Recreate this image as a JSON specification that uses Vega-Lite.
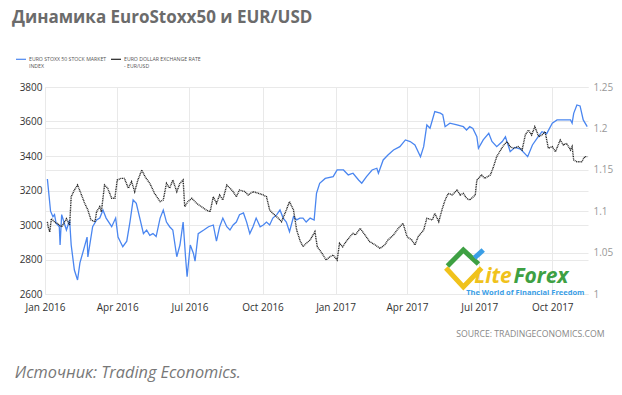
{
  "$schema": "https://vega.github.io/schema/vega-lite/v6.json",
  "width": 543,
  "height": 207,
  "autosize": {"type": "none"},
  "padding": {"left": 45, "top": 87, "right": 34, "bottom": 101},
  "background": "white",
  "title": {
    "text": "Динамика EuroStoxx50 и EUR/USD",
    "anchor": "start",
    "frame": "group",
    "dx": -33,
    "offset": 26,
    "font": "Open Sans",
    "fontSize": 17,
    "fontWeight": "bold",
    "color": "#6b6b6b"
  },
  "config": {
    "view": {"stroke": null},
    "axis": {"labelFont": "Open Sans", "labelFontSize": 10, "domain": false, "ticks": false, "gridColor": "#e9e9e9", "title": null}
  },
  "datasets": {
    "stoxx": [
      {"date": "2016-01-04", "value": 3267}, {"date": "2016-01-06", "value": 3174}, {"date": "2016-01-08", "value": 3080},
      {"date": "2016-01-11", "value": 3048}, {"date": "2016-01-13", "value": 3060}, {"date": "2016-01-15", "value": 3010},
      {"date": "2016-01-19", "value": 2990}, {"date": "2016-01-20", "value": 2884}, {"date": "2016-01-22", "value": 3060},
      {"date": "2016-01-26", "value": 3000}, {"date": "2016-01-28", "value": 2971}, {"date": "2016-02-01", "value": 3029},
      {"date": "2016-02-03", "value": 2884}, {"date": "2016-02-07", "value": 2739}, {"date": "2016-02-11", "value": 2681},
      {"date": "2016-02-14", "value": 2780}, {"date": "2016-02-18", "value": 2846}, {"date": "2016-02-23", "value": 2930},
      {"date": "2016-02-24", "value": 2815}, {"date": "2016-03-01", "value": 2990}, {"date": "2016-03-06", "value": 3029},
      {"date": "2016-03-10", "value": 3040}, {"date": "2016-03-14", "value": 3087}, {"date": "2016-03-18", "value": 3040},
      {"date": "2016-03-25", "value": 2990}, {"date": "2016-03-30", "value": 3040}, {"date": "2016-04-02", "value": 2930},
      {"date": "2016-04-08", "value": 2874}, {"date": "2016-04-13", "value": 2906}, {"date": "2016-04-17", "value": 3017},
      {"date": "2016-04-21", "value": 3145}, {"date": "2016-04-25", "value": 3126}, {"date": "2016-05-04", "value": 2950},
      {"date": "2016-05-08", "value": 2971}, {"date": "2016-05-12", "value": 2940}, {"date": "2016-05-16", "value": 2950},
      {"date": "2016-05-20", "value": 2933}, {"date": "2016-05-25", "value": 3040}, {"date": "2016-05-29", "value": 3087},
      {"date": "2016-06-02", "value": 3017}, {"date": "2016-06-06", "value": 2990}, {"date": "2016-06-10", "value": 2971},
      {"date": "2016-06-15", "value": 2816}, {"date": "2016-06-19", "value": 2884}, {"date": "2016-06-23", "value": 3017},
      {"date": "2016-06-26", "value": 2816}, {"date": "2016-06-28", "value": 2700}, {"date": "2016-07-02", "value": 2884},
      {"date": "2016-07-06", "value": 2835}, {"date": "2016-07-08", "value": 2790}, {"date": "2016-07-12", "value": 2950},
      {"date": "2016-07-19", "value": 2971}, {"date": "2016-07-25", "value": 2990}, {"date": "2016-07-31", "value": 3000},
      {"date": "2016-08-04", "value": 2906}, {"date": "2016-08-08", "value": 2990}, {"date": "2016-08-12", "value": 3040},
      {"date": "2016-08-17", "value": 2990}, {"date": "2016-08-21", "value": 2971}, {"date": "2016-08-25", "value": 3000},
      {"date": "2016-08-29", "value": 3017}, {"date": "2016-09-02", "value": 3060}, {"date": "2016-09-07", "value": 3070},
      {"date": "2016-09-11", "value": 3017}, {"date": "2016-09-15", "value": 2950}, {"date": "2016-09-19", "value": 2990},
      {"date": "2016-09-23", "value": 3040}, {"date": "2016-09-28", "value": 2990}, {"date": "2016-10-02", "value": 3000},
      {"date": "2016-10-06", "value": 3017}, {"date": "2016-10-10", "value": 3000}, {"date": "2016-10-14", "value": 3040},
      {"date": "2016-10-19", "value": 3060}, {"date": "2016-10-23", "value": 3087}, {"date": "2016-10-27", "value": 3040},
      {"date": "2016-10-31", "value": 3017}, {"date": "2016-11-04", "value": 2961}, {"date": "2016-11-09", "value": 3048},
      {"date": "2016-11-13", "value": 3030}, {"date": "2016-11-17", "value": 3040}, {"date": "2016-11-21", "value": 3040},
      {"date": "2016-11-25", "value": 3017}, {"date": "2016-11-30", "value": 3040}, {"date": "2016-12-05", "value": 3029},
      {"date": "2016-12-08", "value": 3184}, {"date": "2016-12-12", "value": 3242}, {"date": "2016-12-19", "value": 3270},
      {"date": "2016-12-29", "value": 3280}, {"date": "2017-01-03", "value": 3319}, {"date": "2017-01-11", "value": 3319},
      {"date": "2017-01-17", "value": 3290}, {"date": "2017-01-23", "value": 3300}, {"date": "2017-01-30", "value": 3261},
      {"date": "2017-02-03", "value": 3242}, {"date": "2017-02-09", "value": 3280}, {"date": "2017-02-16", "value": 3319},
      {"date": "2017-02-22", "value": 3329}, {"date": "2017-02-24", "value": 3300}, {"date": "2017-03-02", "value": 3377},
      {"date": "2017-03-08", "value": 3406}, {"date": "2017-03-15", "value": 3435}, {"date": "2017-03-23", "value": 3454},
      {"date": "2017-03-30", "value": 3493}, {"date": "2017-04-05", "value": 3484}, {"date": "2017-04-11", "value": 3464},
      {"date": "2017-04-18", "value": 3396}, {"date": "2017-04-22", "value": 3454}, {"date": "2017-04-26", "value": 3580},
      {"date": "2017-04-30", "value": 3561}, {"date": "2017-05-06", "value": 3657}, {"date": "2017-05-13", "value": 3648},
      {"date": "2017-05-16", "value": 3640}, {"date": "2017-05-19", "value": 3570}, {"date": "2017-05-25", "value": 3590},
      {"date": "2017-06-03", "value": 3580}, {"date": "2017-06-11", "value": 3570}, {"date": "2017-06-15", "value": 3551},
      {"date": "2017-06-19", "value": 3570}, {"date": "2017-06-23", "value": 3560}, {"date": "2017-06-28", "value": 3512},
      {"date": "2017-06-30", "value": 3445}, {"date": "2017-07-06", "value": 3493}, {"date": "2017-07-13", "value": 3532},
      {"date": "2017-07-17", "value": 3484}, {"date": "2017-07-23", "value": 3454}, {"date": "2017-07-30", "value": 3484},
      {"date": "2017-08-03", "value": 3512}, {"date": "2017-08-09", "value": 3425}, {"date": "2017-08-15", "value": 3450},
      {"date": "2017-08-22", "value": 3440}, {"date": "2017-08-31", "value": 3396}, {"date": "2017-09-06", "value": 3464},
      {"date": "2017-09-12", "value": 3503}, {"date": "2017-09-18", "value": 3541}, {"date": "2017-09-24", "value": 3530},
      {"date": "2017-10-01", "value": 3590}, {"date": "2017-10-07", "value": 3609}, {"date": "2017-10-15", "value": 3609},
      {"date": "2017-10-24", "value": 3609}, {"date": "2017-10-26", "value": 3590}, {"date": "2017-10-28", "value": 3647},
      {"date": "2017-11-01", "value": 3696}, {"date": "2017-11-05", "value": 3690}, {"date": "2017-11-09", "value": 3609},
      {"date": "2017-11-14", "value": 3570}
    ],
    "eurusd": [
      {"date": "2016-01-04", "value": 1.087}, {"date": "2016-01-05", "value": 1.081}, {"date": "2016-01-07", "value": 1.075},
      {"date": "2016-01-09", "value": 1.091}, {"date": "2016-01-13", "value": 1.087}, {"date": "2016-01-17", "value": 1.085},
      {"date": "2016-01-22", "value": 1.081}, {"date": "2016-01-28", "value": 1.091}, {"date": "2016-02-01", "value": 1.083},
      {"date": "2016-02-03", "value": 1.1175}, {"date": "2016-02-07", "value": 1.1256}, {"date": "2016-02-11", "value": 1.1316},
      {"date": "2016-02-16", "value": 1.1196}, {"date": "2016-02-20", "value": 1.1095}, {"date": "2016-02-24", "value": 1.1015},
      {"date": "2016-02-28", "value": 1.0894}, {"date": "2016-03-04", "value": 1.0873}, {"date": "2016-03-06", "value": 1.0994},
      {"date": "2016-03-10", "value": 1.1055}, {"date": "2016-03-12", "value": 1.0994}, {"date": "2016-03-16", "value": 1.1316},
      {"date": "2016-03-20", "value": 1.1276}, {"date": "2016-03-25", "value": 1.1156}, {"date": "2016-03-29", "value": 1.1156},
      {"date": "2016-04-01", "value": 1.1377}, {"date": "2016-04-06", "value": 1.1397}, {"date": "2016-04-10", "value": 1.1397},
      {"date": "2016-04-15", "value": 1.1277}, {"date": "2016-04-19", "value": 1.1357}, {"date": "2016-04-23", "value": 1.1236},
      {"date": "2016-04-27", "value": 1.1377}, {"date": "2016-05-02", "value": 1.1498}, {"date": "2016-05-06", "value": 1.1417},
      {"date": "2016-05-12", "value": 1.1337}, {"date": "2016-05-18", "value": 1.1216}, {"date": "2016-05-25", "value": 1.1116},
      {"date": "2016-05-29", "value": 1.1136}, {"date": "2016-06-02", "value": 1.1337}, {"date": "2016-06-06", "value": 1.1277},
      {"date": "2016-06-10", "value": 1.1377}, {"date": "2016-06-15", "value": 1.1236}, {"date": "2016-06-19", "value": 1.1337},
      {"date": "2016-06-23", "value": 1.1377}, {"date": "2016-06-25", "value": 1.1055}, {"date": "2016-06-29", "value": 1.1116},
      {"date": "2016-07-04", "value": 1.1156}, {"date": "2016-07-10", "value": 1.1095}, {"date": "2016-07-16", "value": 1.1055},
      {"date": "2016-07-22", "value": 1.1015}, {"date": "2016-07-27", "value": 1.0994}, {"date": "2016-07-31", "value": 1.1175},
      {"date": "2016-08-04", "value": 1.1095}, {"date": "2016-08-08", "value": 1.1196}, {"date": "2016-08-12", "value": 1.1136},
      {"date": "2016-08-17", "value": 1.1316}, {"date": "2016-08-21", "value": 1.1277}, {"date": "2016-08-25", "value": 1.1236},
      {"date": "2016-08-29", "value": 1.1175}, {"date": "2016-09-02", "value": 1.1256}, {"date": "2016-09-09", "value": 1.1236},
      {"date": "2016-09-13", "value": 1.1196}, {"date": "2016-09-19", "value": 1.1236}, {"date": "2016-09-26", "value": 1.1216},
      {"date": "2016-10-02", "value": 1.1196}, {"date": "2016-10-06", "value": 1.1175}, {"date": "2016-10-10", "value": 1.1015},
      {"date": "2016-10-14", "value": 1.0974}, {"date": "2016-10-21", "value": 1.0914}, {"date": "2016-10-25", "value": 1.0873},
      {"date": "2016-10-31", "value": 1.1015}, {"date": "2016-11-04", "value": 1.1116}, {"date": "2016-11-09", "value": 1.1015},
      {"date": "2016-11-13", "value": 1.0773}, {"date": "2016-11-17", "value": 1.0652}, {"date": "2016-11-21", "value": 1.0571},
      {"date": "2016-11-25", "value": 1.0612}, {"date": "2016-11-30", "value": 1.0652}, {"date": "2016-12-06", "value": 1.0753},
      {"date": "2016-12-09", "value": 1.0571}, {"date": "2016-12-15", "value": 1.0491}, {"date": "2016-12-20", "value": 1.0411},
      {"date": "2016-12-25", "value": 1.045}, {"date": "2016-12-29", "value": 1.047}, {"date": "2017-01-03", "value": 1.041},
      {"date": "2017-01-06", "value": 1.0612}, {"date": "2017-01-10", "value": 1.057}, {"date": "2017-01-14", "value": 1.063},
      {"date": "2017-01-19", "value": 1.069}, {"date": "2017-01-23", "value": 1.0733}, {"date": "2017-01-26", "value": 1.0713},
      {"date": "2017-02-01", "value": 1.0793}, {"date": "2017-02-07", "value": 1.0713}, {"date": "2017-02-13", "value": 1.0632},
      {"date": "2017-02-20", "value": 1.0592}, {"date": "2017-02-26", "value": 1.0552}, {"date": "2017-03-04", "value": 1.0592},
      {"date": "2017-03-08", "value": 1.0652}, {"date": "2017-03-15", "value": 1.0713}, {"date": "2017-03-21", "value": 1.0793},
      {"date": "2017-03-27", "value": 1.0854}, {"date": "2017-04-01", "value": 1.0692}, {"date": "2017-04-07", "value": 1.0652},
      {"date": "2017-04-11", "value": 1.0592}, {"date": "2017-04-15", "value": 1.0692}, {"date": "2017-04-22", "value": 1.0773},
      {"date": "2017-04-26", "value": 1.0914}, {"date": "2017-05-03", "value": 1.0894}, {"date": "2017-05-06", "value": 1.0974},
      {"date": "2017-05-11", "value": 1.0873}, {"date": "2017-05-15", "value": 1.1015}, {"date": "2017-05-19", "value": 1.1135},
      {"date": "2017-05-23", "value": 1.1216}, {"date": "2017-05-28", "value": 1.1196}, {"date": "2017-06-03", "value": 1.1256},
      {"date": "2017-06-07", "value": 1.1196}, {"date": "2017-06-11", "value": 1.1216}, {"date": "2017-06-15", "value": 1.1156},
      {"date": "2017-06-19", "value": 1.1136}, {"date": "2017-06-26", "value": 1.1196}, {"date": "2017-06-28", "value": 1.1377},
      {"date": "2017-07-04", "value": 1.1437}, {"date": "2017-07-08", "value": 1.1397}, {"date": "2017-07-15", "value": 1.1437},
      {"date": "2017-07-19", "value": 1.1538}, {"date": "2017-07-23", "value": 1.1659}, {"date": "2017-07-28", "value": 1.1739},
      {"date": "2017-08-01", "value": 1.18}, {"date": "2017-08-05", "value": 1.184}, {"date": "2017-08-09", "value": 1.178},
      {"date": "2017-08-13", "value": 1.176}, {"date": "2017-08-19", "value": 1.178}, {"date": "2017-08-24", "value": 1.1739},
      {"date": "2017-08-28", "value": 1.192}, {"date": "2017-09-01", "value": 1.198}, {"date": "2017-09-05", "value": 1.192},
      {"date": "2017-09-09", "value": 1.2021}, {"date": "2017-09-14", "value": 1.19}, {"date": "2017-09-18", "value": 1.192},
      {"date": "2017-09-22", "value": 1.196}, {"date": "2017-09-26", "value": 1.176}, {"date": "2017-10-01", "value": 1.178},
      {"date": "2017-10-05", "value": 1.1719}, {"date": "2017-10-11", "value": 1.186}, {"date": "2017-10-15", "value": 1.18},
      {"date": "2017-10-19", "value": 1.182}, {"date": "2017-10-24", "value": 1.1739}, {"date": "2017-10-26", "value": 1.178},
      {"date": "2017-10-28", "value": 1.1618}, {"date": "2017-11-01", "value": 1.1598}, {"date": "2017-11-07", "value": 1.1598},
      {"date": "2017-11-11", "value": 1.1659}, {"date": "2017-11-14", "value": 1.1659}
    ],
    "logo": [
      {"shape": "yellow", "date": "2017-05-20", "value": 2751}, {"shape": "yellow", "date": "2017-06-11", "value": 2641}, {"shape": "yellow", "date": "2017-07-04", "value": 2751},
      {"shape": "green", "date": "2017-05-22", "value": 2762}, {"shape": "green", "date": "2017-06-11", "value": 2855}, {"shape": "green", "date": "2017-06-30", "value": 2774},
      {"shape": "blue", "date": "2017-06-25", "value": 2809}, {"shape": "blue", "date": "2017-07-06", "value": 2855}
    ]
  },
  "layer": [
    {
      "data": {"name": "stoxx"},
      "mark": {"type": "line", "strokeWidth": 1.3},
      "encoding": {
        "x": {
          "field": "date", "type": "temporal",
          "scale": {"domain": ["2016-01-01", "2017-11-15"]},
          "axis": {"format": "%b %Y", "tickCount": {"interval": "month", "step": 3}, "labelColor": "#333", "labelPadding": 8, "labelFlush": false, "grid": true}
        },
        "y": {
          "field": "value", "type": "quantitative",
          "scale": {"domain": [2600, 3800], "nice": false},
          "axis": {"values": [2600, 2800, 3000, 3200, 3400, 3600, 3800], "format": "d", "labelColor": "#333", "labelPadding": 3, "grid": true}
        },
        "color": {
          "datum": "EURO STOXX 50 STOCK MARKET|INDEX",
          "scale": {"domain": ["EURO STOXX 50 STOCK MARKET|INDEX", "EURO DOLLAR EXCHANGE RATE|- EUR/USD"], "range": ["#4a86f0", "#222222"]},
          "legend": {
            "title": null, "orient": "none", "legendX": -30, "legendY": -34, "direction": "horizontal",
            "symbolType": "stroke", "symbolSize": 100, "symbolStrokeWidth": 1.2,
            "labelFont": "Open Sans", "labelFontSize": 5.2, "labelColor": "#555", "labelExpr": "split(datum.label, '|')",
            "columnPadding": 1, "symbolOffset": 0, "labelOffset": 2
          }
        }
      }
    },
    {
      "data": {"name": "eurusd"},
      "mark": {"type": "line", "strokeWidth": 1.4, "strokeDash": [1, 0.7]},
      "encoding": {
        "x": {"field": "date", "type": "temporal", "scale": {"domain": ["2016-01-01", "2017-11-15"]}},
        "y": {
          "field": "value", "type": "quantitative",
          "scale": {"domain": [1, 1.25], "nice": false},
          "axis": {"orient": "right", "values": [1, 1.05, 1.1, 1.15, 1.2, 1.25], "format": "~g", "labelColor": "#999", "labelPadding": 5, "grid": true}
        },
        "color": {"datum": "EURO DOLLAR EXCHANGE RATE|- EUR/USD"}
      }
    },
    {
      "data": {"name": "logo"},
      "mark": {"type": "line", "strokeWidth": 5, "strokeCap": "butt", "strokeJoin": "miter"},
      "encoding": {
        "x": {"field": "date", "type": "temporal", "scale": {"domain": ["2016-01-01", "2017-11-15"]}},
        "y": {"field": "value", "type": "quantitative", "scale": {"domain": [2600, 3800], "nice": false}, "axis": null},
        "detail": {"field": "shape"},
        "stroke": {"field": "shape", "type": "nominal", "scale": {"domain": ["yellow", "green", "blue"], "range": ["#f0c21c", "#3ea043", "#3a9ee6"]}, "legend": null}
      }
    },
    {
      "data": {"values": [{"date": "2017-08-11", "value": 2664, "label": "Lite"}]},
      "mark": {"type": "text", "align": "right", "baseline": "alphabetic", "font": "Open Sans", "fontSize": 21, "fontStyle": "italic", "fontWeight": "bold", "color": "#f0c21c"},
      "encoding": {
        "x": {"field": "date", "type": "temporal", "scale": {"domain": ["2016-01-01", "2017-11-15"]}},
        "y": {"field": "value", "type": "quantitative", "scale": {"domain": [2600, 3800], "nice": false}, "axis": null},
        "text": {"field": "label"}
      }
    },
    {
      "data": {"values": [{"date": "2017-08-13", "value": 2664, "label": "Forex"}]},
      "mark": {"type": "text", "align": "left", "baseline": "alphabetic", "font": "Open Sans", "fontSize": 21, "fontStyle": "italic", "fontWeight": "bold", "color": "#3ea043"},
      "encoding": {
        "x": {"field": "date", "type": "temporal", "scale": {"domain": ["2016-01-01", "2017-11-15"]}},
        "y": {"field": "value", "type": "quantitative", "scale": {"domain": [2600, 3800], "nice": false}, "axis": null},
        "text": {"field": "label"}
      }
    },
    {
      "data": {"values": [{"date": "2017-08-28", "value": 2606, "label": "The World of Financial Freedom"}]},
      "mark": {"type": "text", "align": "center", "baseline": "middle", "font": "Open Sans", "fontSize": 7.5, "fontWeight": "bold", "color": "#3a9ee6"},
      "encoding": {
        "x": {"field": "date", "type": "temporal", "scale": {"domain": ["2016-01-01", "2017-11-15"]}},
        "y": {"field": "value", "type": "quantitative", "scale": {"domain": [2600, 3800], "nice": false}, "axis": null},
        "text": {"field": "label"}
      }
    },
    {
      "data": {"values": [{"date": "2017-12-06", "value": 2351, "label": "SOURCE: TRADINGECONOMICS.COM"}]},
      "mark": {"type": "text", "align": "right", "baseline": "alphabetic", "font": "Open Sans", "fontSize": 8.7, "color": "#888"},
      "encoding": {
        "x": {"field": "date", "type": "temporal", "scale": {"domain": ["2016-01-01", "2017-11-15"]}},
        "y": {"field": "value", "type": "quantitative", "scale": {"domain": [2600, 3800], "nice": false}, "axis": null},
        "text": {"field": "label"}
      }
    },
    {
      "data": {"values": [{"date": "2015-11-24", "value": 2113, "label": "Источник: Trading Economics."}]},
      "mark": {"type": "text", "align": "left", "baseline": "alphabetic", "font": "Open Sans", "fontSize": 16.3, "fontStyle": "italic", "color": "#777"},
      "encoding": {
        "x": {"field": "date", "type": "temporal", "scale": {"domain": ["2016-01-01", "2017-11-15"]}},
        "y": {"field": "value", "type": "quantitative", "scale": {"domain": [2600, 3800], "nice": false}, "axis": null},
        "text": {"field": "label"}
      }
    }
  ],
  "resolve": {"scale": {"y": "independent"}}
}
